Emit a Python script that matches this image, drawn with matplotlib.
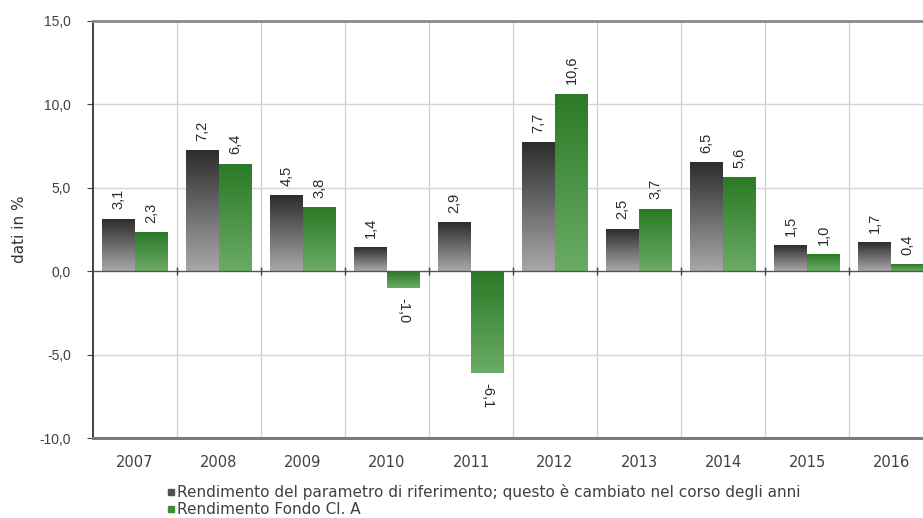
import numpy as np
import matplotlib.pyplot as plt
from matplotlib.colors import LinearSegmentedColormap
from matplotlib.lines import Line2D

plt.rcParams['font.family'] = ['Liberation Sans', 'DejaVu Sans']

years = ["2007", "2008", "2009", "2010", "2011", "2012", "2013", "2014", "2015", "2016"]
benchmark = [3.1, 7.2, 4.5, 1.4, 2.9, 7.7, 2.5, 6.5, 1.5, 1.7]
fund = [2.3, 6.4, 3.8, -1.0, -6.1, 10.6, 3.7, 5.6, 1.0, 0.4]
yticks = [-10, -5, 0, 5, 10, 15]
legend_labels = ["Rendimento del parametro di riferimento; questo è cambiato nel corso degli anni",
                 "Rendimento Fondo Cl. A"]

grey_cmap = LinearSegmentedColormap.from_list("grey", ["#a9a6aa", "#2e2e2e"])
green_cmap = LinearSegmentedColormap.from_list("green", ["#6aab66", "#2b7a25"])

def fmt(v):
    return ("%.1f" % v).replace(".", ",")

def gradient_bars(ax, bars, cmap):
    grad = np.linspace(0, 1, 64).reshape(-1, 1)
    for b in bars:
        x0, y0 = b.get_x(), b.get_y()
        w, h = b.get_width(), b.get_height()
        y_lo, y_hi = min(y0, y0 + h), max(y0, y0 + h)
        ax.imshow(grad, cmap=cmap, extent=[x0, x0 + w, y_lo, y_hi], origin="lower",
                  aspect="auto", zorder=2, interpolation="bilinear")

fig = plt.figure(figsize=(9.23, 5.18), dpi=100)
ax = fig.add_axes([93/923, 80/518, 840/923, 417/518])

x = np.arange(len(years))
w = 0.39
b1 = ax.bar(x - w/2, benchmark, w, color="none", zorder=2)
b2 = ax.bar(x + w/2, fund, w, color="none", zorder=2)
gradient_bars(ax, b1, grey_cmap)
gradient_bars(ax, b2, green_cmap)

for xs, vals in [(x - w/2, benchmark), (x + w/2, fund)]:
    for xi, v in zip(xs, vals):
        if v >= 0:
            ax.text(xi, v + 0.6, fmt(v), rotation=90, ha="center", va="bottom",
                    fontsize=10.5, color="#2a2a2a")
        else:
            ax.text(xi, v - 0.6, fmt(v), rotation=-90, ha="center", va="top",
                    fontsize=10.5, color="#2a2a2a")

ax.set_xlim(-0.5, len(years) - 0.5)
ax.set_ylim(-10, 15)

# grid
for b in np.arange(0.5, len(years) - 0.5, 1):
    ax.axvline(b, color="#cfcfcf", lw=0.9, zorder=1)
for yv in [-5, 5, 10]:
    ax.axhline(yv, color="#d5d5d5", lw=1.0, zorder=1)

ax.axhline(0, color="#555555", lw=1.0, zorder=3)
ax.plot(np.arange(0.5, len(years) - 0.5, 1), np.zeros(len(years) - 1), "|",
        color="#444444", ms=6, mew=1.0, zorder=3)

ax.set_yticks(yticks)
ax.set_yticklabels([fmt(v) for v in yticks], fontsize=10, color="#404040")
ax.set_xticks(x)
ax.set_xticklabels(years, fontsize=10.5, color="#404040", family="DejaVu Sans")
ax.tick_params(axis="x", length=0, pad=12.5)
ax.tick_params(axis="y", length=4, color="#444444", pad=12)
ax.set_ylabel("dati in %", fontsize=11, color="#333333", labelpad=9, family="DejaVu Sans")

ax.spines["left"].set_color("#333333")
ax.spines["left"].set_linewidth(1.3)
ax.spines["top"].set_color("#8a8a8a")
ax.spines["top"].set_linewidth(2.0)
ax.spines["bottom"].set_color("#7a7a7a")
ax.spines["bottom"].set_linewidth(2.2)
ax.spines["right"].set_visible(False)

handles = [Line2D([], [], marker="s", ls="", color="#505050", ms=5),
           Line2D([], [], marker="s", ls="", color="#3d8a38", ms=5)]
fig.legend(handles, legend_labels, loc="upper left", bbox_to_anchor=(166/923, 1 - 484/518),
           frameon=False, handlelength=0.6, handletextpad=0.15,
           labelspacing=0.15, borderpad=0, borderaxespad=0, labelcolor="#404040",
           prop={"family": "DejaVu Sans", "size": 11})

fig.savefig("out.png", dpi=100)
